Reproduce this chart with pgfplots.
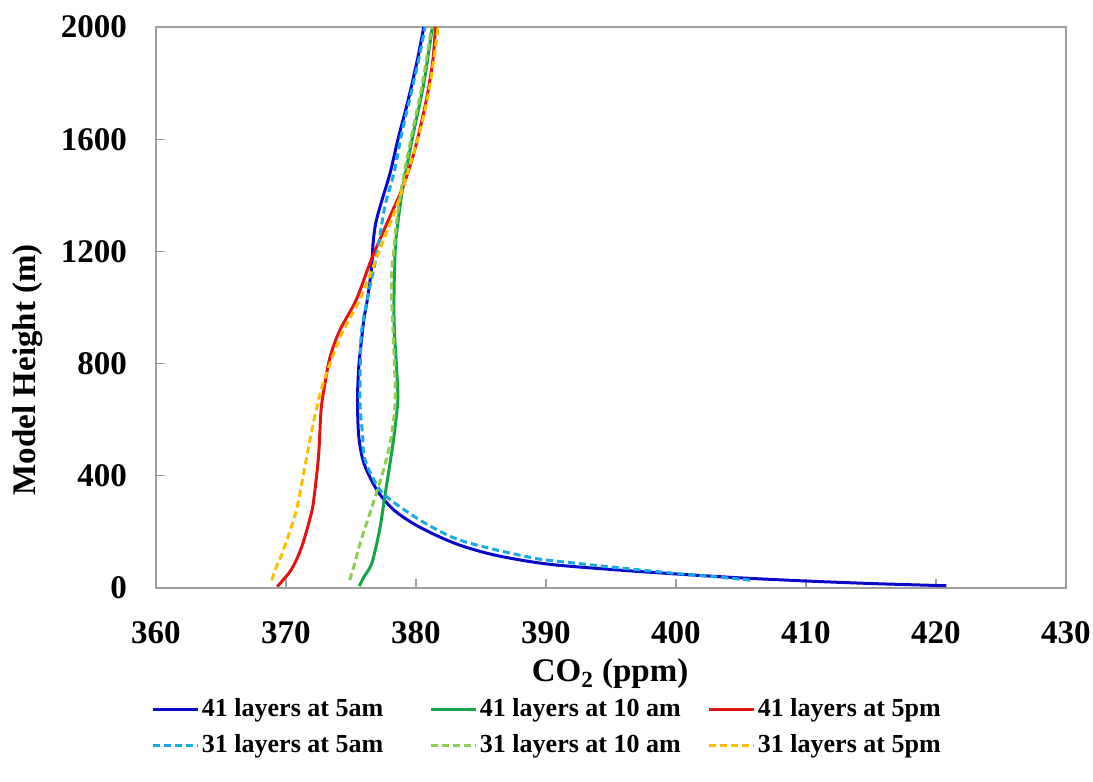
\documentclass[border=0pt]{standalone}
\usepackage{fontspec}
\setmainfont{Liberation Serif}
\usepackage{pgfplots}
\pgfplotsset{compat=1.18}
\definecolor{cBlue}{RGB}{10,10,200}
\definecolor{cGreen}{RGB}{20,165,75}
\definecolor{cRed}{RGB}{225,20,20}
\definecolor{cCyan}{RGB}{25,170,230}
\definecolor{cLGreen}{RGB}{145,205,80}
\definecolor{cOrange}{RGB}{255,190,0}
\begin{document}
\begin{tikzpicture}
\path[use as bounding box] (-78pt,-97pt) rectangle (468.5pt,294pt);
\begin{axis}[
  at={(0,0)}, anchor=south west,
  scale only axis, width=455pt, height=280.5pt,
  xmin=360, xmax=430, ymin=0, ymax=2000,
  xtick={360,370,...,430}, ytick={0,400,...,2000},
  tick pos=left, tick align=inside, major tick length=4.5pt,
  axis line style={gray!75, line width=0.7pt},
  tick style={gray!75, line width=0.6pt},
  ticklabel style={font=\fontsize{16.5}{18}\selectfont\bfseries},
  /pgf/number format/assume math mode=true,
  /pgf/number format/1000 sep={},
  xticklabel style={yshift=-13pt},
  yticklabel style={xshift=-11pt},
  xlabel={CO\textsubscript{2} (ppm)},
  ylabel={Model Height (m)},
  label style={font=\fontsize{16.5}{18}\selectfont\bfseries},
  xlabel style={at={(axis description cs:0.499,0)}, anchor=center, yshift=-43pt},
  ylabel style={at={(axis description cs:-0.1407,0.389)}, anchor=center},
  legend columns=3,
  legend style={at={(axis description cs:-0.0044,0)}, anchor=north west, yshift=-54.5pt,
    draw=none, fill=none, inner sep=0pt, outer sep=0pt, row sep=5.5pt,
    font=\fontsize{13}{15}\selectfont\bfseries,
    nodes={inner xsep=1pt, inner ysep=0pt, text height=9.5pt, text depth=3pt}},
  legend cell align=left,
  legend image code/.code={\draw[#1] (0pt,0pt) -- (22.5pt,0pt);},
  every axis plot/.append style={line width=1.5pt, smooth, tension=0.5},
]
\addplot[cBlue] table {
x y
420.8 8
415 16
410 25
405 36
400 50
395 66
390 86
386 118
383 159
380.2 219
378.3 278
377.0 349
376.0 444
375.6 540
375.5 670
375.6 790
375.8 880
376.0 960
376.3 1040
376.6 1150
376.7 1230
376.9 1300
377.3 1370
378.0 1478
378.6 1597
379.4 1740
380.1 1882
380.6 2000
};
\addlegendentry{\makebox[113pt][l]{41 layers at 5am}}
\addplot[cGreen] table {
x y
375.64 7
376.0 40
376.6 88
377.2 207
377.6 326
378.0 444
378.3 540
378.6 670
378.5 789
378.35 908
378.3 1020
378.4 1205
378.6 1300
379.0 1430
379.8 1621
380.6 1799
381.26 2000
};
\addlegendentry{\makebox[113pt][l]{41 layers at 10 am}}
\addplot[cRed] table {
x y
369.33 5
369.8 30
370.3 58
370.8 100
371.3 159
371.8 240
372.1 302
372.5 468
372.7 635
373.0 730
373.4 825
374.15 920
375.4 1027
376.6 1175
378.1 1335
379.0 1430
379.9 1561
380.8 1740
381.3 1882
381.5 2000
};
\addlegendentry{41 layers at 5pm}
\addplot[cCyan, dash pattern=on 3.5pt off 2pt] table {
x y
405.7 28
403 40
400 52
395 75
390 100
388.5 112
385.8 140
383 177
380.3 242
377.6 331
376.6 400
376.0 470
375.9 540
375.7 650
375.7 730
375.8 908
376.4 1062
377.0 1193
377.6 1359
378.3 1478
378.9 1621
379.5 1740
380.2 1882
380.7 2000
};
\addlegendentry{\makebox[113pt][l]{31 layers at 5am}}
\addplot[cLGreen, dash pattern=on 3.5pt off 2pt] table {
x y
374.9 28
375.3 90
375.7 159
376.7 302
377.5 420
378.1 540
378.4 670
378.3 848
378.1 1086
378.3 1205
378.5 1300
378.9 1430
379.7 1621
380.5 1799
381.2 2000
};
\addlegendentry{\makebox[113pt][l]{31 layers at 10 am}}
\addplot[cOrange, dash pattern=on 3.5pt off 2pt] table {
x y
368.9 28
369.3 80
369.8 135
370.8 278
371.5 444
372.1 587
372.7 706
373.4 801
374.3 908
375.8 1040
377.1 1193
378.5 1359
379.5 1502
380.4 1645
381.1 1799
381.7 2000
};
\addlegendentry{31 layers at 5pm}
\end{axis}
\end{tikzpicture}
\end{document}
